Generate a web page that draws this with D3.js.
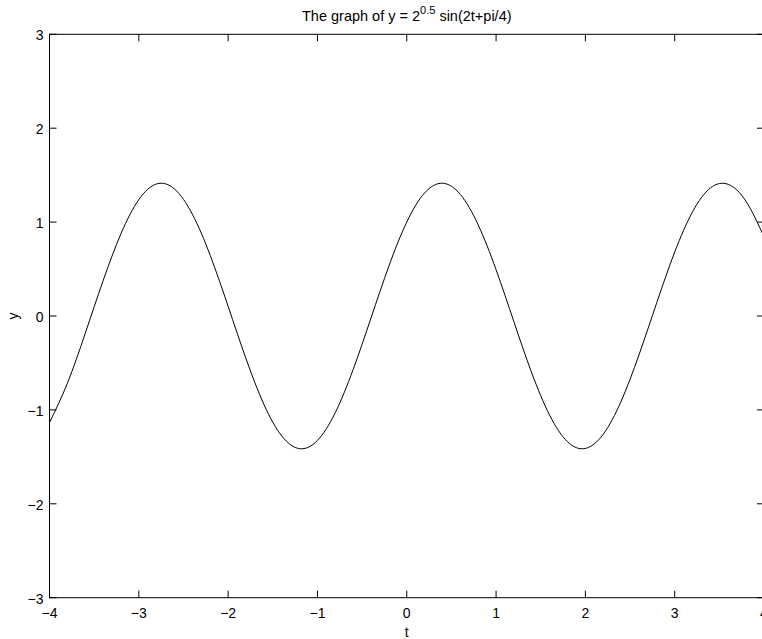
<!DOCTYPE html>
<html><head><meta charset="utf-8">
<script src="https://cdn.jsdelivr.net/npm/d3@7"></script>
<style>
html,body{margin:0;padding:0;background:#fff;}
text{font-family:"Liberation Sans",Arial,Helvetica,sans-serif;fill:#000;}
</style></head>
<body><svg id="c" width="762" height="639"></svg>
<script>
// t sampled from -4 to 4 in steps of 0.2
const tValues = d3.range(41).map(i => -4 + i * 0.2);
const yValues = [
 -1.1349,-0.7167,-0.1853,0.3753,0.8766,1.2396,1.4068,1.3520,1.0837,0.6443,
 0.1032,-0.4542,-0.9399,-1.2772,-1.4129,-1.3255,-1.0288,-0.5697,-0.0206,0.5316,
 1.0000,1.3105,1.4141,1.2945,0.9704,0.4931,-0.0619,-0.6072,-1.0567,-1.3393,
 -1.4105,-1.2590,-0.9087,-0.4149,0.1443,0.6808,1.1097,1.3635,1.4020,1.2193,
 0.8439];
const xTicks = [-4,-3,-2,-1,0,1,2,3,4];
const yTicks = [-3,-2,-1,0,1,2,3];
const xDomain = [-4,4], yDomain = [-3,3];

const L = 49.5, R = 764, T = 34.3, B = 597.7;
const svg = d3.select("#c");
const x = d3.scaleLinear().domain(xDomain).range([L,R]);
const y = d3.scaleLinear().domain(yDomain).range([B,T]);
const fmt = d => d < 0 ? "\u2212" + Math.abs(d) : String(d);

svg.append("defs").append("clipPath").attr("id","clip")
  .append("rect").attr("x",L).attr("y",T).attr("width",R-L).attr("height",B-T);

const tick = 7;
const g = svg.append("g");
g.append("rect").attr("x",L).attr("y",T).attr("width",R-L).attr("height",B-T)
 .attr("fill","none").attr("stroke","#000").attr("stroke-width",1);
xTicks.forEach(v => {
  const px = x(v);
  g.append("line").attr("x1",px).attr("x2",px).attr("y1",B).attr("y2",B-tick).attr("stroke","#000");
  g.append("line").attr("x1",px).attr("x2",px).attr("y1",T).attr("y2",T+tick).attr("stroke","#000");
  g.append("text").attr("x",px).attr("y",B+20.5).attr("text-anchor","middle")
   .attr("font-size",14).text(fmt(v));
});
yTicks.forEach(v => {
  const py = y(v);
  g.append("line").attr("x1",L).attr("x2",L+tick).attr("y1",py).attr("y2",py).attr("stroke","#000");
  g.append("line").attr("x1",R).attr("x2",R-tick).attr("y1",py).attr("y2",py).attr("stroke","#000");
  g.append("text").attr("x",L-6).attr("y",py+6).attr("text-anchor","end")
   .attr("font-size",14).text(fmt(v));
});

const line = d3.line().x((d,i)=>x(tValues[i])).y(d=>y(d)).curve(d3.curveNatural);
svg.append("path").datum(yValues).attr("d",line).attr("fill","none")
  .attr("stroke","#000").attr("stroke-width",1).attr("clip-path","url(#clip)");

const title = svg.append("text").attr("x",(L+R)/2).attr("y",21).attr("text-anchor","middle").attr("font-size",14.5);
title.append("tspan").text("The graph of y = 2");
title.append("tspan").attr("font-size",11).attr("dy",-7).text("0.5");
title.append("tspan").attr("dy",7).text(" sin(2t+pi/4)");

svg.append("text").attr("x",(L+R)/2).attr("y",637).attr("text-anchor","middle").attr("font-size",14).text("t");
svg.append("text").attr("transform",`translate(18,${y(0)}) rotate(-90)`).attr("text-anchor","middle").attr("font-size",14).text("y");
</script></body></html>
